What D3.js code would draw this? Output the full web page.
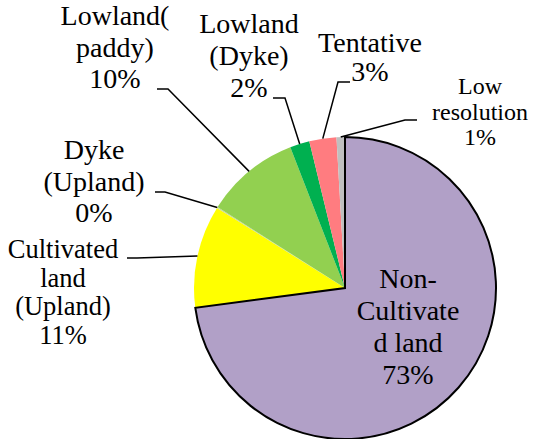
<!DOCTYPE html>
<html>
<head>
<meta charset="utf-8">
<script src="https://cdn.jsdelivr.net/npm/d3@7"></script>
<style>
  body { margin: 0; background: #fff; }
  svg { display: block; }
</style>
</head>
<body>
<script>
// slices, clockwise from 12 o'clock
const categories = ["Non-Cultivated land", "Cultivated land (Upland)", "Dyke (Upland)", "Lowland(paddy)", "Lowland (Dyke)", "Tentative", "Low resolution"];
const values = [72.9, 11.0, 0.1, 10.1, 2.1, 2.9, 0.9];
const pctLabels = ["73%", "11%", "0%", "10%", "2%", "3%", "1%"];
const labelLines = [
  ["Non-", "Cultivate", "d land"],
  ["Cultivated", "land", "(Upland)"],
  ["Dyke", "(Upland)"],
  ["Lowland(", "paddy)"],
  ["Lowland", "(Dyke)"],
  ["Tentative"],
  ["Low", "resolution"]
];
const colors = ["#B1A0C7", "#FFFF00", "#C4D79B", "#92D050", "#00B050", "#FF7C80", "#BFBFBF"];

// label placement (layout only): centre x, first baseline, line height, font size, leader stub
const labelPos = [
  {x: 408, y: 288, lh: 32,   fs: 28, stub: null},
  {x: 63,  y: 258, lh: 28.5, fs: 26.5, stub: [[127, 258], [137, 258]]},
  {x: 94,  y: 159, lh: 31.5, fs: 28, stub: [[155, 192], [165, 192]]},
  {x: 115, y: 25,  lh: 31.5, fs: 28, stub: [[157, 89], [168, 89]]},
  {x: 249, y: 33,  lh: 31.8, fs: 28, stub: [[273, 98], [285, 98]]},
  {x: 370, y: 52,  lh: 28.5, fs: 28, stub: [[350, 82], [338, 82]]},
  {x: 480, y: 94,  lh: 25.5, fs: 24, stub: [[417, 120], [405, 120]]}
];

const serifFont = "'Liberation Serif', 'DejaVu Serif', 'Times New Roman', Times, serif";

const width = 535, height = 439;
const cx = 345, cy = 288, r = 151;

const svg = d3.select("body").append("svg")
  .attr("width", width)
  .attr("height", height);

const pie = d3.pie().sort(null).value(d => d)(values);
const arc = d3.arc().innerRadius(0).outerRadius(r);
const edge = d3.arc().innerRadius(r).outerRadius(r);

const g = svg.append("g").attr("transform", `translate(${cx},${cy})`);

g.selectAll("path.slice")
  .data(pie)
  .enter().append("path")
  .attr("class", "slice")
  .attr("d", arc)
  .attr("fill", (d, i) => colors[i])
  .attr("stroke", (d, i) => i === 0 ? "#000" : "none")
  .attr("stroke-width", 2);

// outlined slice on top so its border is not covered
g.select("path.slice").raise();

// leader lines
pie.forEach((d, i) => {
  const p = labelPos[i];
  if (!p.stub) return;
  const c = edge.centroid(d);
  const pts = [p.stub[0], p.stub[1], [c[0] + cx, c[1] + cy]];
  svg.append("path")
    .attr("d", d3.line()(pts))
    .attr("fill", "none")
    .attr("stroke", "#000")
    .attr("stroke-width", 1.5);
});

// labels
labelLines.forEach((lines, i) => {
  const p = labelPos[i];
  const t = svg.append("text")
    .attr("text-anchor", "middle")
    .attr("font-family", serifFont)
    .attr("font-size", p.fs)
    .attr("fill", "#000");
  lines.concat([pctLabels[i]]).forEach((s, k) => {
    t.append("tspan")
      .attr("x", p.x)
      .attr("y", p.y + k * p.lh)
      .text(s);
  });
});
</script>
</body>
</html>
